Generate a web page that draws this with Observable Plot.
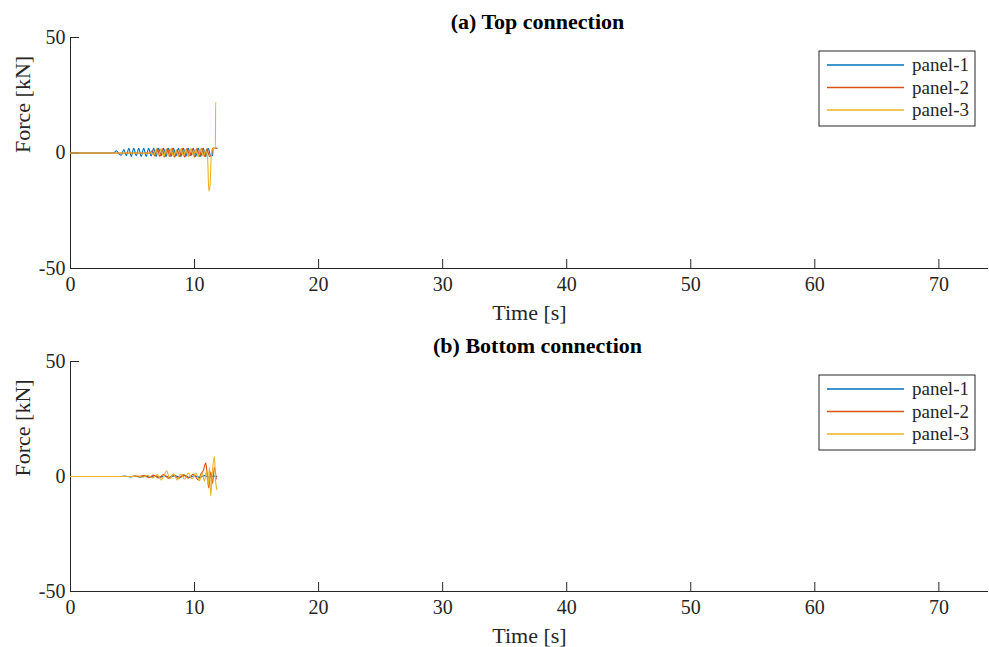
<!DOCTYPE html>
<html><head><meta charset="utf-8">
<script src="https://cdn.jsdelivr.net/npm/d3@7"></script>
<script src="https://cdn.jsdelivr.net/npm/@observablehq/plot@0.6"></script>
<style>
body{margin:0;background:#fff;}
#chart{width:989px;height:647px;}
#chart svg{display:block;}
</style>
</head><body><div id="chart"></div>
<script>
// ---- data ----
const seriesNames = ["panel-1", "panel-2", "panel-3"];
const seriesColors = ["#0072BD", "#D95319", "#EDB120"];
const panelTitles = ["(a) Top connection", "(b) Bottom connection"];
const xTicks = [0, 10, 20, 30, 40, 50, 60, 70];
const yTicks = [-50, 0, 50];
const xDomain = [0, 74];
const yDomain = [-50, 50];
const xLabel = "Time [s]";
const yLabel = "Force [kN]";

// top connection
const topT1 = [0, 3.5, 3.7, 3.9, 4.1, 4.3, 4.5, 4.7, 4.9, 5.1, 5.3, 5.5, 5.7, 5.9, 6.1, 6.3, 6.5, 6.7, 6.9, 7.1, 7.3, 7.5, 7.7, 7.9, 8.1, 8.3, 8.5, 8.7, 8.9, 9.1, 9.3, 9.5, 9.7, 9.9, 10.1, 10.3, 10.5, 10.7, 10.9, 11.1, 11.3, 11.45, 11.5, 11.8];
const topV1 = [0, 0, 1.0, -0.3, -1.0, 1.5, -1.2, 2.0, -1.5, 2.0, -1.2, 2.0, -1.5, 2.0, -1.5, 2.0, -1.3, 2.0, -1.5, 2.0, -1.2, 2.0, -1.5, 2.0, -1.5, 2.0, -1.3, 2.0, -1.5, 2.0, -1.5, 2.0, -1.2, 2.0, -1.5, 2.0, -1.5, 2.0, -1.5, 2.0, -1.2, -1.2, 2.0, 2.0];
const topT2 = [0, 6.4, 6.6, 6.8, 7.0, 7.2, 7.4, 7.6, 7.8, 8.0, 8.2, 8.4, 8.6, 8.8, 9.0, 9.2, 9.4, 9.6, 9.8, 10.0, 10.2, 10.4, 10.6, 10.8, 11.0, 11.2, 11.35, 11.45, 11.8];
const topV2 = [0, 0, 1.0, -1.2, 2.0, -1.5, 1.8, -1.8, 2.0, -1.5, 2.0, -1.8, 1.5, -1.5, 2.0, -1.8, 2.0, -1.2, 1.8, -1.8, 2.0, -1.5, 2.0, -1.5, 1.8, -1.5, -1.0, 2.0, 2.0];
const topT3 = [0, 6.5, 6.7, 6.9, 7.1, 7.3, 7.5, 7.7, 7.9, 8.1, 8.3, 8.5, 8.7, 8.9, 9.1, 9.3, 9.5, 9.7, 9.9, 10.1, 10.3, 10.5, 10.7, 10.9, 11.05, 11.15, 11.25, 11.35, 11.5, 11.68, 11.7, 11.72];
const topV3 = [0, 0, -0.8, 1.5, -1.0, 1.8, -1.5, 1.5, -1.2, 1.8, -1.5, 1.2, -1.5, 1.8, -1.2, 1.5, -1.5, 1.8, -1.0, 1.5, -1.5, 1.8, -1.2, 1.0, -2.0, -16.5, -14.0, -1.0, 2.0, 2.0, 22.0, 22.0];

// bottom connection
const botT1 = [0, 4.0, 4.4, 4.8, 5.2, 5.6, 6.0, 6.4, 6.8, 7.2, 7.6, 8.0, 8.4, 8.8, 9.2, 9.6, 10.0, 10.4, 10.8, 11.2, 11.5, 11.8];
const botV1 = [0, 0, 0.2, -0.2, 0.3, -0.3, 0.3, -0.3, 0.4, -0.4, 0.3, -0.4, 0.4, -0.3, 0.4, -0.4, 0.3, -0.4, 0.4, -0.3, 0.2, 0];
const botT2 = [0, 5.5, 5.9, 6.3, 6.7, 7.1, 7.5, 7.9, 8.3, 8.7, 9.1, 9.5, 9.9, 10.3, 10.5, 10.7, 10.9, 11.0, 11.15, 11.3, 11.45, 11.6, 11.75];
const botV2 = [0, 0, 0.4, -0.5, 0.6, -0.6, 0.8, -0.8, 0.7, -0.9, 0.8, -0.7, 1.0, -1.5, 1.0, 2.5, 5.8, 2.0, -5.0, 2.0, -3.0, 4.0, -1.0];
const botT3 = [0, 5.0, 5.4, 5.8, 6.2, 6.6, 7.0, 7.3, 7.55, 7.75, 8.0, 8.3, 8.6, 8.9, 9.2, 9.5, 9.8, 10.1, 10.4, 10.6, 10.8, 10.95, 11.1, 11.2, 11.3, 11.45, 11.6, 11.7, 11.8];
const botV3 = [0, 0, 0.3, -0.3, 0.5, -0.6, 0.8, -1.5, 0.5, 2.5, -1.0, 1.2, -1.5, 1.0, -1.2, 1.5, -1.0, 1.5, -1.8, 1.5, -2.0, 2.0, -4.0, 4.0, -8.5, 3.0, 8.7, -2.0, -5.7];

const panels = [
  {title: panelTitles[0], series: [[topT1, topV1], [topT2, topV2], [topT3, topV3]], height: 323, marginTop: 37, marginBottom: 55},
  {title: panelTitles[1], series: [[botT1, botV1], [botT2, botV2], [botT3, botV3]], height: 324, marginTop: 38, marginBottom: 56}
];

const W = 989, ML = 70, MR = 1;
const ink = "#262626";

function makePanel(p) {
  const plotH = p.height - p.marginTop - p.marginBottom;
  const plotW = W - ML - MR;
  const tickLen = 9;
  const marks = [
    Plot.ruleX([xDomain[0]], {stroke: ink, strokeWidth: 1}),
    Plot.ruleY([yDomain[0]], {stroke: ink, strokeWidth: 1}),
    Plot.tickX(xTicks, {x: d => d, stroke: ink, insetTop: plotH - tickLen}),
    Plot.tickY(yTicks, {y: d => d, stroke: ink, insetRight: plotW - tickLen}),
    Plot.axisX({ticks: xTicks, tickSize: 0, tickPadding: 8, tickFormat: d => String(d), label: null, fill: ink, fontSize: 20}),
    Plot.axisY({ticks: yTicks, tickSize: 0, tickPadding: 5, tickFormat: d => String(d), label: null, fill: ink, fontSize: 20}),
    ...p.series.map((s, i) => Plot.line(s[0], {x: s[0], y: s[1], stroke: seriesColors[i], strokeWidth: 1.1, curve: "monotone-x"})),
    Plot.text([p.title], {text: d => d, frameAnchor: "top", dy: -16, dx: 8, fontSize: 22, fontWeight: "bold", fill: "#000", lineAnchor: "middle"}),
    Plot.text([xLabel], {text: d => d, frameAnchor: "bottom", dy: 44, fontSize: 22, fill: ink, lineAnchor: "middle"}),
    Plot.text([yLabel], {text: d => d, frameAnchor: "left", dx: -48, rotate: -90, fontSize: 22, fill: ink, lineAnchor: "middle"})
  ];
  const svg = Plot.plot({
    width: W, height: p.height,
    marginLeft: ML, marginRight: MR, marginTop: p.marginTop, marginBottom: p.marginBottom,
    x: {domain: xDomain},
    y: {domain: yDomain},
    style: {fontFamily: "'Liberation Serif', 'Times New Roman', serif", fontSize: "20px", background: "#fff", overflow: "visible"},
    marks
  });
  // legend (box in upper right of the frame)
  const g = d3.select(svg).append("g")
    .attr("font-family", "'Liberation Serif', serif").attr("font-size", 19).attr("text-anchor", "start");
  const lx = W - MR - 169, ly = p.marginTop + 14, lw = 156, lh = 75;
  g.append("rect").attr("x", lx).attr("y", ly).attr("width", lw).attr("height", lh)
    .attr("fill", "#fff").attr("stroke", ink).attr("stroke-width", 1);
  seriesNames.forEach((name, i) => {
    const yy = ly + 14 + i * 22.5;
    g.append("line").attr("x1", lx + 8).attr("x2", lx + 85).attr("y1", yy).attr("y2", yy)
      .attr("stroke", seriesColors[i]).attr("stroke-width", 1.3);
    g.append("text").attr("x", lx + 93).attr("y", yy).attr("dy", "0.32em")
      .attr("text-anchor", "start").attr("fill", ink).text(name);
  });
  return svg;
}

const chart = document.getElementById("chart");
panels.forEach(p => chart.appendChild(makePanel(p)));
</script>
</body></html>
